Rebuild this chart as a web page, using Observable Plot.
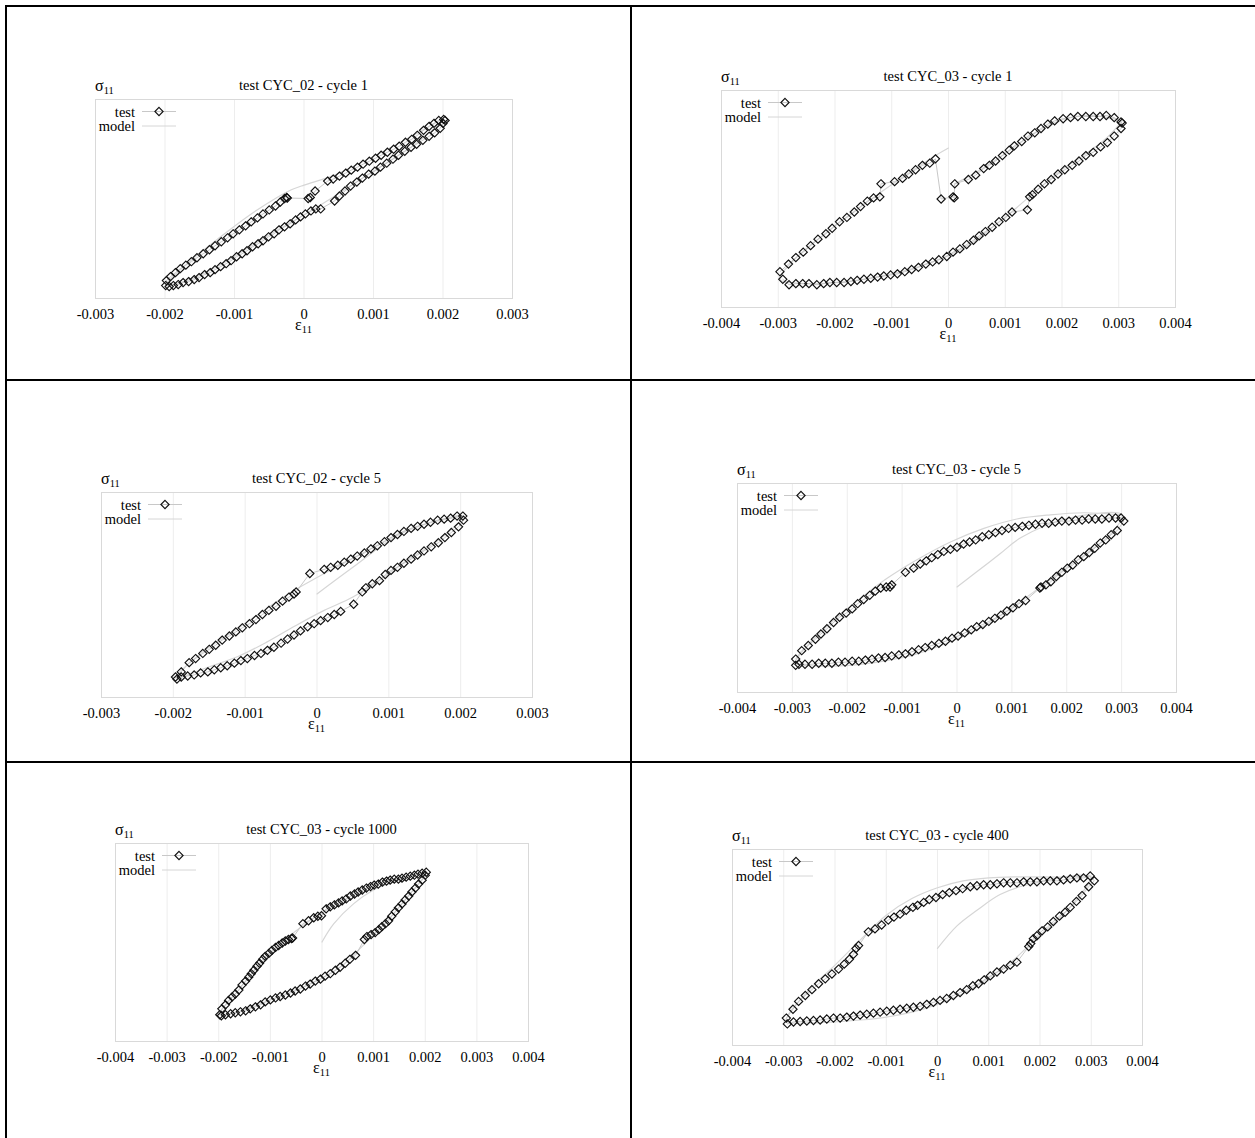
<!DOCTYPE html>
<html><head><meta charset="utf-8">
<script src="https://cdn.jsdelivr.net/npm/d3@7"></script>
<script src="https://cdn.jsdelivr.net/npm/@observablehq/plot@0.6"></script>
<style>
html,body{margin:0;padding:0;background:#fff;}
#page{position:relative;width:1255px;height:1138px;overflow:hidden;font-family:"Liberation Serif","Times New Roman",serif;color:#000;}
.rule{position:absolute;background:#000;}
.t,.tl,.tr{position:absolute;font-size:14.5px;line-height:1;white-space:nowrap;}
.t{transform:translate(-50%,-50%);}
.tl{transform:translate(0,-50%);}
.tr{transform:translate(-100%,-50%);}
.big{font-size:16px;}
.sub{font-size:10.5px;position:relative;top:3px;}
.plot,.leg{position:absolute;}
</style></head><body><div id="page"></div>
<script>
// ---------- text ----------
const titles = ["test CYC_02 - cycle 1","test CYC_03 - cycle 1","test CYC_02 - cycle 5","test CYC_03 - cycle 5","test CYC_03 - cycle 1000","test CYC_03 - cycle 400"];
const xLimits = [3,4,3,4,4,4];           // strain axis limits, in 1e-3
const legendLabels = ["test","model"];

// ---------- data: [strain (1e-3), normalised stress sigma11] ----------
const p1Test = [[-1.98,-0.82],[-1.92,-0.78],[-1.85,-0.74],[-1.78,-0.70],[-1.70,-0.665],[-1.62,-0.63],[-1.54,-0.59],[-1.45,-0.55],[-1.36,-0.51],[-1.28,-0.47],[-1.19,-0.43],[-1.10,-0.39],[-1.02,-0.35],[-0.93,-0.31],[-0.84,-0.27],[-0.76,-0.23],[-0.67,-0.19],[-0.59,-0.15],[-0.50,-0.11],[-0.41,-0.07],[-0.34,-0.03],[-0.28,0.005],[-0.25,0.015],[-0.24,0.01],[0.06,0.005],[0.09,0.015],[0.16,0.08],[0.34,0.18],[0.42,0.20],[0.51,0.23],[0.60,0.26],[0.68,0.29],[0.77,0.32],[0.85,0.35],[0.94,0.38],[1.03,0.41],[1.11,0.44],[1.20,0.47],[1.29,0.50],[1.37,0.53],[1.46,0.57],[1.55,0.60],[1.63,0.64],[1.72,0.69],[1.80,0.73],[1.87,0.76],[1.94,0.79],[2.01,0.80],[2.03,0.79],
[2.00,0.76],[1.96,0.71],[1.88,0.665],[1.80,0.63],[1.71,0.59],[1.62,0.55],[1.54,0.52],[1.45,0.48],[1.36,0.44],[1.28,0.40],[1.19,0.36],[1.10,0.32],[1.02,0.28],[0.93,0.25],[0.84,0.21],[0.76,0.17],[0.67,0.13],[0.59,0.08],[0.51,0.03],[0.44,-0.02],[0.24,-0.10],[0.17,-0.10],[0.10,-0.12],[0.02,-0.15],[-0.05,-0.18],[-0.12,-0.21],[-0.20,-0.25],[-0.28,-0.28],[-0.36,-0.31],[-0.43,-0.35],[-0.51,-0.38],[-0.59,-0.42],[-0.66,-0.45],[-0.74,-0.48],[-0.82,-0.52],[-0.89,-0.55],[-0.97,-0.58],[-1.05,-0.62],[-1.12,-0.65],[-1.20,-0.68],[-1.28,-0.71],[-1.35,-0.74],[-1.43,-0.76],[-1.51,-0.79],[-1.58,-0.81],[-1.66,-0.83],[-1.74,-0.84],[-1.81,-0.86],[-1.88,-0.87],[-1.94,-0.88],[-1.99,-0.87]];
const p1Model = [[-1.98,-0.84],[-1.6,-0.60],[-1.2,-0.38],[-0.8,-0.17],[-0.4,0.01],[-0.19,0.09],[0.0,0.14],[0.4,0.23],[0.8,0.36],[1.2,0.50],[1.6,0.65],[2.0,0.80],[1.6,0.55],[1.2,0.37],[0.8,0.19],[0.4,0.01],[0.0,-0.16],[-0.4,-0.32],[-0.8,-0.49],[-1.2,-0.66],[-1.6,-0.80],[-1.98,-0.87]];

const p2Test = [[-2.97,-0.67],[-2.82,-0.60],[-2.69,-0.54],[-2.56,-0.49],[-2.43,-0.43],[-2.30,-0.37],[-2.16,-0.32],[-2.05,-0.27],[-1.92,-0.21],[-1.79,-0.17],[-1.66,-0.12],[-1.55,-0.07],[-1.43,-0.02],[-1.32,0.01],[-1.21,0.02],[-1.19,0.14],[-0.95,0.16],[-0.81,0.19],[-0.70,0.23],[-0.58,0.27],[-0.46,0.31],[-0.33,0.33],[-0.23,0.37],[-0.13,0.00],[0.08,0.02],[0.10,0.01],[0.11,0.14],[0.35,0.18],[0.48,0.22],[0.62,0.28],[0.72,0.31],[0.83,0.35],[0.95,0.40],[1.07,0.45],[1.16,0.49],[1.29,0.53],[1.40,0.58],[1.52,0.61],[1.63,0.65],[1.75,0.69],[1.87,0.72],[2.02,0.74],[2.15,0.75],[2.28,0.76],[2.42,0.76],[2.55,0.76],[2.67,0.76],[2.78,0.77],[2.92,0.75],[3.04,0.71],[3.06,0.70],
[3.04,0.65],[2.92,0.58],[2.80,0.52],[2.68,0.48],[2.55,0.43],[2.42,0.40],[2.30,0.35],[2.18,0.31],[2.05,0.27],[1.93,0.23],[1.81,0.18],[1.69,0.14],[1.58,0.09],[1.48,0.04],[1.43,0.02],[1.39,-0.10],[1.12,-0.12],[1.01,-0.17],[0.89,-0.21],[0.77,-0.26],[0.65,-0.30],[0.54,-0.34],[0.44,-0.38],[0.32,-0.42],[0.20,-0.46],[0.08,-0.49],[-0.03,-0.53],[-0.17,-0.56],[-0.28,-0.58],[-0.40,-0.60],[-0.53,-0.63],[-0.65,-0.65],[-0.77,-0.67],[-0.90,-0.69],[-1.02,-0.70],[-1.14,-0.71],[-1.25,-0.72],[-1.37,-0.73],[-1.49,-0.74],[-1.61,-0.75],[-1.72,-0.76],[-1.84,-0.77],[-1.97,-0.77],[-2.09,-0.77],[-2.20,-0.78],[-2.32,-0.79],[-2.46,-0.78],[-2.57,-0.78],[-2.69,-0.78],[-2.81,-0.79],[-2.92,-0.74]];
const p2Model = [[3.06,0.72],[2.8,0.57],[2.4,0.41],[2.0,0.27],[1.6,0.10],[1.2,-0.08],[0.8,-0.25],[0.4,-0.41],[0.0,-0.52],[-0.5,-0.62],[-1.0,-0.69],[-1.5,-0.74],[-2.0,-0.77],[-2.5,-0.78],[-2.97,-0.74],[-2.7,-0.55],[-2.2,-0.33],[-1.7,-0.13],[-1.2,0.06],[-0.7,0.24],[-0.2,0.41],[0.0,0.47],[NaN,NaN],[0.11,0.14],[0.5,0.25],[1.0,0.42],[1.5,0.60],[2.0,0.73],[2.5,0.77],[3.06,0.72]];

const p3Test = [[-1.97,-0.80],[-1.89,-0.75],[-1.78,-0.66],[-1.69,-0.62],[-1.59,-0.57],[-1.50,-0.53],[-1.41,-0.49],[-1.32,-0.44],[-1.22,-0.40],[-1.13,-0.36],[-1.04,-0.32],[-0.94,-0.28],[-0.85,-0.24],[-0.76,-0.19],[-0.67,-0.15],[-0.57,-0.11],[-0.48,-0.06],[-0.39,-0.02],[-0.32,0.01],[-0.29,0.03],[-0.10,0.21],[0.10,0.25],[0.19,0.27],[0.29,0.29],[0.38,0.32],[0.47,0.35],[0.56,0.38],[0.66,0.41],[0.75,0.45],[0.84,0.48],[0.94,0.52],[1.03,0.56],[1.12,0.59],[1.21,0.62],[1.31,0.65],[1.40,0.67],[1.49,0.69],[1.58,0.71],[1.68,0.73],[1.77,0.74],[1.86,0.75],[1.95,0.77],[2.03,0.77],
[2.04,0.73],[1.97,0.665],[1.87,0.61],[1.78,0.56],[1.69,0.51],[1.59,0.47],[1.49,0.43],[1.40,0.39],[1.31,0.35],[1.21,0.31],[1.12,0.27],[1.03,0.24],[0.95,0.20],[0.87,0.14],[0.77,0.11],[0.68,0.07],[0.63,0.03],[0.51,-0.09],[0.33,-0.16],[0.24,-0.19],[0.15,-0.22],[0.05,-0.25],[-0.04,-0.28],[-0.13,-0.31],[-0.23,-0.35],[-0.32,-0.39],[-0.41,-0.43],[-0.50,-0.47],[-0.60,-0.51],[-0.69,-0.54],[-0.78,-0.57],[-0.87,-0.59],[-0.97,-0.62],[-1.06,-0.64],[-1.15,-0.665],[-1.25,-0.69],[-1.34,-0.71],[-1.43,-0.73],[-1.52,-0.75],[-1.62,-0.76],[-1.71,-0.78],[-1.80,-0.79],[-1.89,-0.80],[-1.95,-0.82]];
const p3Model = [[0.0,0.01],[0.5,0.27],[1.12,0.58],[1.6,0.71],[2.03,0.77],[1.7,0.54],[1.3,0.36],[0.9,0.16],[0.5,-0.02],[0.1,-0.15],[-0.3,-0.30],[-0.7,-0.46],[-1.1,-0.60],[-1.5,-0.70],[-1.97,-0.81],[-1.6,-0.56],[-1.2,-0.37],[-0.8,-0.18],[-0.4,0.01],[0.0,0.17],[0.4,0.32],[0.8,0.47],[1.2,0.62],[1.6,0.71],[2.03,0.77]];

const p4Test = [[-2.94,-0.68],[-2.83,-0.60],[-2.71,-0.55],[-2.58,-0.49],[-2.48,-0.44],[-2.37,-0.39],[-2.25,-0.33],[-2.14,-0.28],[-2.02,-0.24],[-1.91,-0.20],[-1.81,-0.15],[-1.70,-0.11],[-1.59,-0.07],[-1.49,-0.03],[-1.39,0.00],[-1.29,0.01],[-1.22,0.01],[-1.19,0.03],[-0.94,0.15],[-0.79,0.19],[-0.67,0.23],[-0.56,0.26],[-0.46,0.29],[-0.35,0.32],[-0.24,0.35],[-0.12,0.37],[0.00,0.39],[0.12,0.42],[0.23,0.44],[0.34,0.46],[0.46,0.49],[0.58,0.51],[0.70,0.53],[0.82,0.55],[0.94,0.57],[1.06,0.58],[1.19,0.59],[1.31,0.60],[1.43,0.61],[1.55,0.62],[1.67,0.62],[1.79,0.63],[1.91,0.64],[2.04,0.64],[2.16,0.65],[2.28,0.65],[2.40,0.66],[2.52,0.66],[2.64,0.66],[2.77,0.67],[2.89,0.67],[2.99,0.67],
[3.04,0.64],[2.92,0.55],[2.81,0.51],[2.71,0.46],[2.61,0.43],[2.51,0.38],[2.41,0.34],[2.31,0.30],[2.21,0.27],[2.11,0.22],[2.01,0.19],[1.91,0.15],[1.81,0.11],[1.71,0.06],[1.62,0.03],[1.53,0.01],[1.51,0.00],[1.25,-0.12],[1.13,-0.15],[1.02,-0.19],[0.91,-0.22],[0.80,-0.26],[0.69,-0.29],[0.58,-0.32],[0.47,-0.35],[0.36,-0.37],[0.26,-0.40],[0.14,-0.43],[0.02,-0.46],[-0.09,-0.48],[-0.21,-0.51],[-0.33,-0.53],[-0.46,-0.55],[-0.58,-0.57],[-0.70,-0.59],[-0.82,-0.61],[-0.94,-0.63],[-1.06,-0.64],[-1.19,-0.65],[-1.31,-0.665],[-1.43,-0.67],[-1.55,-0.68],[-1.67,-0.69],[-1.79,-0.70],[-1.91,-0.70],[-2.04,-0.71],[-2.16,-0.71],[-2.28,-0.72],[-2.40,-0.72],[-2.52,-0.72],[-2.64,-0.73],[-2.77,-0.73],[-2.88,-0.73],[-2.94,-0.74]];
const p4Model = [[0.0,0.01],[0.36,0.155],[0.79,0.33],[1.16,0.48],[2.01,0.665],[3.01,0.70],[2.86,0.55],[2.49,0.38],[2.01,0.20],[1.52,0.01],[1.09,-0.155],[0.49,-0.365],[-0.12,-0.515],[-0.73,-0.63],[-1.34,-0.70],[-1.95,-0.74],[-2.55,-0.745],[-2.94,-0.72],[-2.74,-0.56],[-2.25,-0.31],[-1.76,-0.10],[-1.28,0.09],[-0.73,0.27],[-0.12,0.44],[0.49,0.57],[1.09,0.66],[1.70,0.70],[2.31,0.72],[3.01,0.70]];

const p5Test = [[-1.98,-0.73],[-1.94,-0.67],[-1.87,-0.63],[-1.81,-0.585],[-1.74,-0.55],[-1.68,-0.52],[-1.61,-0.48],[-1.55,-0.43],[-1.48,-0.39],[-1.42,-0.35],[-1.37,-0.315],[-1.32,-0.28],[-1.26,-0.24],[-1.21,-0.21],[-1.15,-0.17],[-1.10,-0.14],[-1.03,-0.11],[-0.97,-0.08],[-0.90,-0.05],[-0.84,-0.03],[-0.77,-0.005],[-0.71,0.015],[-0.65,0.03],[-0.59,0.04],[-0.57,0.045],[-0.37,0.19],[-0.26,0.22],[-0.16,0.25],[-0.08,0.265],[-0.01,0.27],[0.08,0.34],[0.16,0.36],[0.24,0.38],[0.32,0.40],[0.39,0.42],[0.47,0.44],[0.55,0.47],[0.63,0.49],[0.70,0.51],[0.78,0.53],[0.86,0.55],[0.94,0.565],[1.01,0.58],[1.09,0.59],[1.17,0.61],[1.25,0.62],[1.32,0.63],[1.40,0.64],[1.48,0.64],[1.55,0.65],[1.63,0.66],[1.71,0.67],[1.79,0.68],[1.86,0.69],[1.94,0.70],[2.02,0.71],
[2.00,0.68],[1.94,0.63],[1.87,0.59],[1.81,0.55],[1.74,0.51],[1.68,0.47],[1.61,0.43],[1.55,0.39],[1.48,0.35],[1.42,0.31],[1.35,0.265],[1.29,0.22],[1.23,0.19],[1.16,0.16],[1.10,0.13],[1.03,0.10],[0.95,0.08],[0.87,0.06],[0.82,0.03],[0.65,-0.13],[0.54,-0.17],[0.45,-0.21],[0.35,-0.25],[0.26,-0.28],[0.16,-0.315],[0.06,-0.34],[-0.03,-0.37],[-0.13,-0.39],[-0.23,-0.42],[-0.32,-0.44],[-0.42,-0.47],[-0.52,-0.49],[-0.61,-0.51],[-0.71,-0.53],[-0.81,-0.545],[-0.90,-0.56],[-1.00,-0.58],[-1.10,-0.60],[-1.19,-0.63],[-1.29,-0.65],[-1.39,-0.67],[-1.48,-0.69],[-1.58,-0.70],[-1.68,-0.71],[-1.77,-0.72],[-1.87,-0.73],[-1.95,-0.74]];
const p5Model = [[0.0,0.005],[0.23,0.19],[0.61,0.39],[1.0,0.53],[1.39,0.61],[2.0,0.70],[1.7,0.49],[1.4,0.30],[1.1,0.13],[0.7,-0.08],[0.4,-0.23],[0.0,-0.36],[-0.5,-0.48],[-1.0,-0.58],[-1.5,-0.68],[-1.98,-0.73],[-1.6,-0.47],[-1.2,-0.22],[-0.8,-0.01],[-0.4,0.16],[0.0,0.30],[0.4,0.42],[0.8,0.53],[1.2,0.61],[1.6,0.66],[2.0,0.70]];

const p6Test = [[-2.95,-0.72],[-2.82,-0.63],[-2.71,-0.55],[-2.58,-0.49],[-2.45,-0.43],[-2.32,-0.37],[-2.19,-0.32],[-2.06,-0.27],[-1.93,-0.22],[-1.82,-0.17],[-1.72,-0.12],[-1.64,-0.07],[-1.59,-0.01],[-1.54,0.02],[-1.35,0.16],[-1.22,0.19],[-1.09,0.23],[-0.96,0.28],[-0.85,0.31],[-0.73,0.34],[-0.61,0.38],[-0.48,0.41],[-0.39,0.43],[-0.27,0.46],[-0.16,0.49],[-0.03,0.51],[0.10,0.54],[0.23,0.56],[0.36,0.58],[0.49,0.60],[0.64,0.62],[0.77,0.63],[0.90,0.64],[1.03,0.64],[1.16,0.65],[1.29,0.66],[1.42,0.66],[1.55,0.66],[1.68,0.67],[1.81,0.67],[1.94,0.67],[2.07,0.68],[2.20,0.68],[2.33,0.68],[2.46,0.69],[2.59,0.70],[2.72,0.71],[2.85,0.71],[2.98,0.73],
[3.06,0.68],[2.95,0.62],[2.82,0.53],[2.71,0.47],[2.59,0.41],[2.49,0.36],[2.38,0.32],[2.26,0.265],[2.15,0.21],[2.04,0.17],[1.94,0.12],[1.87,0.09],[1.82,0.04],[1.78,0.01],[1.55,-0.15],[1.42,-0.18],[1.29,-0.22],[1.16,-0.25],[1.03,-0.29],[0.91,-0.33],[0.80,-0.37],[0.69,-0.39],[0.57,-0.43],[0.44,-0.46],[0.31,-0.49],[0.18,-0.52],[0.05,-0.54],[-0.08,-0.56],[-0.21,-0.58],[-0.34,-0.60],[-0.47,-0.61],[-0.60,-0.62],[-0.73,-0.63],[-0.86,-0.64],[-0.99,-0.65],[-1.12,-0.66],[-1.25,-0.67],[-1.38,-0.68],[-1.51,-0.69],[-1.64,-0.70],[-1.77,-0.71],[-1.90,-0.72],[-2.03,-0.72],[-2.16,-0.73],[-2.29,-0.74],[-2.42,-0.745],[-2.55,-0.75],[-2.68,-0.755],[-2.81,-0.76],[-2.93,-0.78]];
const p6Model = [[0.0,-0.01],[0.38,0.22],[0.77,0.38],[1.22,0.54],[1.68,0.63],[2.98,0.72],[2.7,0.48],[2.3,0.26],[1.9,0.08],[1.5,-0.12],[1.0,-0.31],[0.5,-0.47],[0.0,-0.58],[-0.5,-0.66],[-1.0,-0.71],[-1.5,-0.74],[-2.0,-0.76],[-2.5,-0.77],[-2.95,-0.75],[-2.5,-0.43],[-2.0,-0.18],[-1.5,0.08],[-1.0,0.33],[-0.5,0.50],[0.0,0.61],[0.5,0.68],[1.0,0.71],[1.5,0.72],[2.0,0.72],[2.5,0.72],[2.98,0.73]];

const tests = [p1Test,p2Test,p3Test,p4Test,p5Test,p6Test];
const models = [p1Model,p2Model,p3Model,p4Model,p5Model,p6Model];

// ---------- layout (page pixels): frame left, right, top, bottom ----------
const frames = [[95,512,99,298],[721,1175,90,307],[101,532,492,697],[737,1176,483,692],[115,528,843,1041],[732,1142,849,1045]];
const tableRules = [[5,5,1250,2],[5,5,2,1133],[630,5,2,1133],[5,379,1250,2],[5,761,1250,2]];

const page = document.getElementById("page");
tableRules.forEach(([l,t,w,h])=>{
  const d=document.createElement("div"); d.className="rule";
  Object.assign(d.style,{left:l+"px",top:t+"px",width:w+"px",height:h+"px"}); page.appendChild(d);
});
function label(cls,x,y,html){
  const d=document.createElement("div"); d.className=cls; d.style.left=x+"px"; d.style.top=y+"px"; d.innerHTML=html; page.appendChild(d);
}
const fmt = d => d === 0 ? "0" : (d/1000).toFixed(3);
const mL=40,mR=40,mT=10,mB=40;
const X = d=>d[0], Y = d=>d[1];
const dotColor="#111", testLine="#c8c8c8", modelLine="#d6d6d6";

frames.forEach(([L,R,T,B],i)=>{
  const xm = xLimits[i];
  const ticks = d3.range(-xm, xm+1);
  const chart = Plot.plot({
    width: R-L+mL+mR, height: B-T+mT+mB,
    marginLeft:mL, marginRight:mR, marginTop:mT, marginBottom:mB,
    x:{domain:[-xm,xm], ticks, tickFormat:fmt, tickSize:0, tickPadding:10, label:null},
    y:{domain:[-1,1], axis:null},
    style:{fontFamily:'"Liberation Serif", serif', fontSize:"14.5px", color:"#000", background:"transparent", overflow:"visible"},
    marks:[
      Plot.ruleX(ticks, {stroke:"#ededed"}),
      Plot.frame({stroke:"#d9d9d9"}),
      Plot.line(models[i], {x:X, y:Y, stroke:modelLine, strokeWidth:1.2, curve:"catmull-rom"}),
      Plot.line(tests[i], {x:X, y:Y, stroke:testLine, strokeWidth:1}),
      Plot.dot(tests[i], {x:X, y:Y, symbol:"diamond2", r:3.7, stroke:dotColor, strokeWidth:1.15, fill:"none"})
    ]
  });
  chart.classList.add("plot");
  chart.style.left=(L-mL)+"px"; chart.style.top=(T-mT)+"px";
  page.appendChild(chart);

  const cx=(L+R)/2;
  label("t", cx, T-14, titles[i]);
  label("tl big", L, T-13, 'σ<span class="sub">11</span>');
  label("t big", cx, B+26.5, 'ε<span class="sub">11</span>');
  // legend
  label("tr", L+40, T+12.5, legendLabels[0]);
  label("tr", L+40, T+27, legendLabels[1]);
  const leg = d3.create("svg").attr("class","leg").attr("width",44).attr("height",32)
    .style("left",(L+43)+"px").style("top",(T+4)+"px");
  leg.append("line").attr("x1",4).attr("x2",38).attr("y1",8.5).attr("y2",8.5).attr("stroke",testLine);
  leg.append("path").attr("d",d3.symbol(d3.symbolDiamond2, 3.7*3.7*Math.PI)()).attr("transform","translate(21,8.5)")
    .attr("fill","none").attr("stroke",dotColor).attr("stroke-width",1.15);
  leg.append("line").attr("x1",4).attr("x2",38).attr("y1",23).attr("y2",23).attr("stroke",modelLine);
  page.appendChild(leg.node());
});
</script></body></html>
